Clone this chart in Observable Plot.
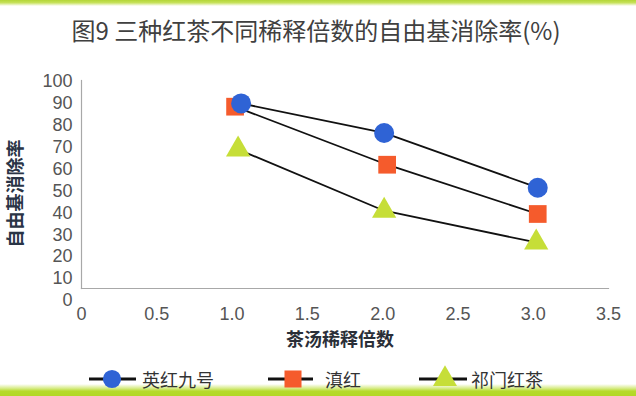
<!DOCTYPE html>
<html>
<head>
<meta charset="utf-8">
<script src="https://cdn.jsdelivr.net/npm/d3@7"></script>
<script src="https://cdn.jsdelivr.net/npm/@observablehq/plot@0.6"></script>
<style>
  html, body { margin: 0; padding: 0; background: #fff; }
  #wrap { position: relative; width: 636px; height: 396px; overflow: hidden; background: #fff; }
  #bandTop { position: absolute; left: 0; top: 0; width: 636px; height: 6px;
    background: linear-gradient(to bottom, #b3d636 0%, #c6e15a 45%, rgba(255,255,255,0) 100%); }
  #bandBottom { position: absolute; left: 0; top: 384px; width: 636px; height: 12px;
    background: linear-gradient(to bottom, rgba(255,255,255,0) 0%, #d8ec8a 35%, #b6da2c 60%, #b2d826 100%); }
  #title { position: absolute; left: 0; top: 13px; width: 632px; text-align: center;
    font-family: "Noto Sans CJK SC", "Noto Sans", sans-serif; font-size: 24px; color: #404040;
    line-height: 34px; }
  #chart { position: absolute; left: 0; top: 0; }
  #legend { position: absolute; left: 0; top: 358px; }
</style>
</head>
<body>
<div id="wrap">
  <div id="bandTop"></div>
  <div id="bandBottom"></div>
  <div id="chart"></div>
  <div id="title">图9 三种红茶不同稀释倍数的自由基消除率(%)</div>
  <svg id="legend" width="636" height="38"></svg>
</div>
<script>
// ---- data ----
const categories = ["英红九号", "滇红", "祁门红茶"];
const colors = ["#2f63d5", "#f55b2c", "#c6de38"];
const symbols = ["circle", "square", "triangle"];

const xBlue = [1.06, 2.01, 3.03];
const yBlue = [90, 76.5, 51.5];
const xRed = [1.02, 2.03, 3.03];
const yRed = [88.5, 62, 39.5];
const xGreen = [1.04, 2.01, 3.02];
const yGreen = [69, 41, 26.5];

const xTicks = [0, 0.5, 1, 1.5, 2, 2.5, 3, 3.5];
const xTickLabels = ["0", "0.5", "1.0", "1.5", "2.0", "2.5", "3.0", "3.5"];
const yTicks = [0, 10, 20, 30, 40, 50, 60, 70, 80, 90, 100];

const xTitle = "茶汤稀释倍数";
const yTitle = "自由基消除率";

// ---- table ----
const seriesX = [xBlue, xRed, xGreen];
const seriesY = [yBlue, yRed, yGreen];
const data = categories.flatMap((c, s) => seriesX[s].map((x, i) => ({series: c, x, y: seriesY[s][i]})));
const bySeries = c => data.filter(d => d.series === c);

const axisFont = "'Liberation Sans', Arial, sans-serif";
const cjkFont = "'Noto Sans CJK SC', sans-serif";

const chart = Plot.plot({
  width: 636,
  height: 396,
  marginTop: 80,
  marginBottom: 108,
  marginLeft: 81,
  marginRight: 28,
  style: {fontFamily: axisFont, fontSize: "18px", color: "#555", background: "transparent"},
  x: {domain: [0, 3.5]},
  y: {domain: [0, 100], range: [300, 81]},
  color: {domain: categories, range: colors},
  symbol: {domain: categories, range: symbols},
  marks: [
    Plot.frame({anchor: "bottom", stroke: "#a8a8a8", strokeWidth: 1.2}),
    Plot.frame({anchor: "left", stroke: "#a8a8a8", strokeWidth: 1.2}),
    Plot.axisX({ticks: xTicks, tickFormat: d => xTickLabels[xTicks.indexOf(d)], tickSize: 0, tickPadding: 19,
      label: null, fontSize: 18, fill: "#555", fontFamily: axisFont}),
    Plot.axisY({ticks: yTicks, tickSize: 0, tickPadding: 9, label: null, fontSize: 18, fill: "#555", fontFamily: axisFont}),
    Plot.text([xTitle], {frameAnchor: "bottom", dy: 52, dx: -5, textAnchor: "middle", lineAnchor: "middle",
      fontSize: 18, fontWeight: "bold", fill: "#2a2f38", fontFamily: cjkFont}),
    Plot.text([yTitle], {frameAnchor: "left", dx: -65, dy: 9, rotate: -90, textAnchor: "middle", lineAnchor: "middle",
      fontSize: 18, fontWeight: "bold", fill: "#2a3446", fontFamily: cjkFont}),
    Plot.line(data, {x: "x", y: "y", z: "series", stroke: "#111", strokeWidth: 1.8}),
    Plot.dot(bySeries(categories[1]), {x: "x", y: "y", symbol: "series", fill: "series", r: 10, stroke: "none"}),
    Plot.dot(bySeries(categories[2]), {x: "x", y: "y", symbol: "series", fill: "series", r: 9, stroke: "none"}),
    Plot.dot(bySeries(categories[0]), {x: "x", y: "y", symbol: "series", fill: "series", r: 10, stroke: "none"})
  ]
});
document.getElementById("chart").appendChild(chart);

// ---- legend ----
const legend = d3.select("#legend");
const ly = 21;
const lineX1 = [89, 268, 419], lineX2 = [136, 313, 467], symX = [112, 293, 445], textX = [142, 325, 471];
const symbolTypes = [d3.symbolCircle, d3.symbolSquare, d3.symbolTriangle];
const symbolSizes = [260, 290, 250];
categories.forEach((c, i) => {
  const g = legend.append("g");
  g.append("line").attr("x1", lineX1[i]).attr("x2", lineX2[i]).attr("y1", ly).attr("y2", ly)
    .attr("stroke", "#111").attr("stroke-width", 3);
  g.append("path").attr("d", d3.symbol(symbolTypes[i], symbolSizes[i])())
    .attr("transform", `translate(${symX[i]},${ly})`).attr("fill", colors[i]);
  g.append("text").attr("x", textX[i]).attr("y", ly).attr("dominant-baseline", "central")
    .attr("font-family", cjkFont).attr("font-size", 18).attr("fill", "#333").text(c);
});
</script>
</body>
</html>
